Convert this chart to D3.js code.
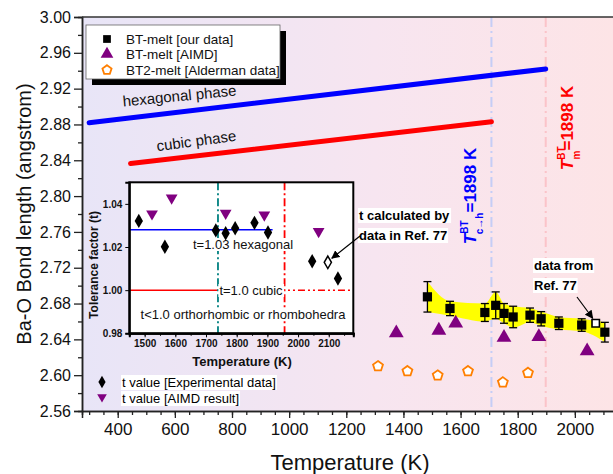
<!DOCTYPE html>
<html>
<head>
<meta charset="utf-8">
<script src="https://d3js.org/d3.v7.min.js"></script>
<style>
  body { margin: 0; background: #fff; }
  text { font-family: "Liberation Sans", Arial, sans-serif; }
</style>
</head>
<body>
<script>
var width = 613,
    height = 474;

// --- main chart data ---
var ourT   = [1484, 1563, 1685, 1723, 1752, 1784, 1843, 1882, 1944, 2024, 2105],
    ourBO  = [2.6875, 2.6745, 2.670, 2.678, 2.669, 2.665, 2.667, 2.663, 2.658, 2.656, 2.648],
    ourErr = [0.017, 0.008, 0.010, 0.015, 0.011, 0.012, 0.008, 0.008, 0.007, 0.007, 0.011];
var refT = [2073], refBO = [2.658]; // open square, Ref. 77
var aimdT  = [1375, 1524, 1583, 1752, 1874, 2043],
    aimdBO = [2.647, 2.650, 2.658, 2.642, 2.643, 2.627];
var aldT  = [1311, 1414, 1520, 1626, 1748, 1836],
    aldBO = [2.610, 2.6045, 2.5997, 2.6045, 2.592, 2.6026];
var hexLine   = [[300, 2.882], [1898, 2.942]],
    cubicLine = [[445, 2.8365], [1708, 2.883]];
var T_ch = 1708, T_m = 1898;
var xTicks = [400, 600, 800, 1000, 1200, 1400, 1600, 1800, 2000],
    yTicks = [2.56, 2.60, 2.64, 2.68, 2.72, 2.76, 2.80, 2.84, 2.88, 2.92, 2.96, 3.00];

// --- inset data ---
var expT = [1481, 1566, 1732, 1764, 1795, 1858, 1902, 2046, 2130],
    expTol = [1.0321, 1.0201, 1.0277, 1.0264, 1.0287, 1.0312, 1.0267, 1.0134, 1.0054];
var expRefT = [2097], expRefTol = [1.0129];
var aimdTolT = [1524, 1588, 1764, 1890, 2067],
    aimdTol  = [1.0354, 1.0428, 1.0357, 1.0349, 1.0272];
var insetXTicks = [1500, 1600, 1700, 1800, 1900, 2000, 2100],
    insetYTicks = [0.98, 1.00, 1.02, 1.04];
var tHex = 1.028, tCubic = 1.00, insetVLine1 = 1739, insetVLine2 = 1956, hexEnd = 1917;

var svg = d3.select("body").append("svg")
    .attr("width", width).attr("height", height);

var pLeft = 82, pTop = 17, pRight = 614, pBottom = 411;

var x = d3.scaleLinear().domain([275, 2137]).range([pLeft, pRight]);
var y = d3.scaleLinear().domain([2.56, 3.00]).range([pBottom, pTop]);

var defs = svg.append("defs");
var grad = defs.append("linearGradient").attr("id", "bg");
grad.append("stop").attr("offset", "0%").attr("stop-color", "#e8e5f7");
grad.append("stop").attr("offset", "55%").attr("stop-color", "#f7e5f0");
grad.append("stop").attr("offset", "100%").attr("stop-color", "#fde4e6");
defs.append("clipPath").attr("id", "clip").append("rect")
    .attr("x", pLeft).attr("y", pTop).attr("width", pRight - pLeft).attr("height", pBottom - pTop);

svg.append("rect").attr("x", pLeft).attr("y", pTop)
    .attr("width", pRight - pLeft).attr("height", pBottom - pTop)
    .attr("fill", "url(#bg)");

var plot = svg.append("g").attr("clip-path", "url(#clip)");

// vertical transition lines
plot.append("line").attr("x1", x(T_ch)).attr("x2", x(T_ch)).attr("y1", pTop).attr("y2", pBottom)
    .attr("stroke", "#c5cdf6").attr("stroke-width", 2).attr("stroke-dasharray", "10,4,2,4");
plot.append("line").attr("x1", x(T_m)).attr("x2", x(T_m)).attr("y1", pTop).attr("y2", pBottom)
    .attr("stroke", "#fbc3c9").attr("stroke-width", 2).attr("stroke-dasharray", "10,4,2,4");

// phase lines
var line = d3.line().x(function(d) { return x(d[0]); }).y(function(d) { return y(d[1]); });
plot.append("path").attr("d", line(hexLine)).attr("stroke", "#0000ff")
    .attr("stroke-width", 5).attr("stroke-linecap", "round").attr("fill", "none");
plot.append("path").attr("d", line(cubicLine)).attr("stroke", "#ff0000")
    .attr("stroke-width", 5).attr("stroke-linecap", "round").attr("fill", "none");

svg.append("text").attr("transform", "translate(180,101) rotate(-5.5)")
    .attr("text-anchor", "middle").attr("font-size", 15).attr("fill", "#111").text("hexagonal phase");
svg.append("text").attr("transform", "translate(197,146) rotate(-7.5)")
    .attr("text-anchor", "middle").attr("font-size", 15).attr("fill", "#111").text("cubic phase");

// yellow band
var ourData = ourT.map(function(t, i) { return {t: t, v: ourBO[i], e: ourErr[i]}; });
var band = d3.area().curve(d3.curveMonotoneX)
    .x(function(d) { return x(d.t); })
    .y0(function(d) { return y(d.v - d.e); })
    .y1(function(d) { return y(d.v + d.e); });
plot.append("path").datum(ourData).attr("d", band).attr("fill", "#ffff00");

// error bars
var eb = plot.selectAll("g.eb").data(ourData).enter().append("g")
    .attr("stroke", "#000").attr("stroke-width", 1.3);
eb.append("line").attr("x1", function(d) { return x(d.t); }).attr("x2", function(d) { return x(d.t); })
    .attr("y1", function(d) { return y(d.v + d.e); }).attr("y2", function(d) { return y(d.v - d.e); });
eb.append("line").attr("x1", function(d) { return x(d.t) - 4; }).attr("x2", function(d) { return x(d.t) + 4; })
    .attr("y1", function(d) { return y(d.v + d.e); }).attr("y2", function(d) { return y(d.v + d.e); });
eb.append("line").attr("x1", function(d) { return x(d.t) - 4; }).attr("x2", function(d) { return x(d.t) + 4; })
    .attr("y1", function(d) { return y(d.v - d.e); }).attr("y2", function(d) { return y(d.v - d.e); });

var sq = d3.symbol().type(d3.symbolSquare).size(85);
plot.selectAll("path.sq").data(ourData).enter().append("path")
    .attr("transform", function(d) { return "translate(" + x(d.t) + "," + y(d.v) + ")"; })
    .attr("d", sq).attr("fill", "#000");
plot.selectAll("path.ref").data(refT).enter().append("path")
    .attr("transform", function(d, i) { return "translate(" + x(d) + "," + y(refBO[i]) + ")"; })
    .attr("d", d3.symbol().type(d3.symbolSquare).size(55)).attr("fill", "#fff")
    .attr("stroke", "#000").attr("stroke-width", 1.6);

var tri = d3.symbol().type(d3.symbolTriangle).size(95);
plot.selectAll("path.tri").data(aimdT).enter().append("path")
    .attr("transform", function(d, i) { return "translate(" + x(d) + "," + y(aimdBO[i]) + ")"; })
    .attr("d", tri).attr("fill", "#800080");

// pentagon path
function pentagon(r) {
  var p = d3.range(5).map(function(k) {
    var a = -Math.PI / 2 + k * 2 * Math.PI / 5;
    return [r * Math.cos(a), r * Math.sin(a)];
  });
  return "M" + p.join("L") + "Z";
}
plot.selectAll("path.pent").data(aldT).enter().append("path")
    .attr("transform", function(d, i) { return "translate(" + x(d) + "," + y(aldBO[i]) + ")"; })
    .attr("d", pentagon(5.2)).attr("fill", "#fff").attr("stroke", "#ff7f00").attr("stroke-width", 1.8);

// axes
var xAxis = svg.append("g").attr("transform", "translate(0," + pBottom + ")")
    .call(d3.axisBottom(x).tickValues(xTicks).tickSize(7).tickPadding(5).tickFormat(d3.format("d")));
svg.append("g").attr("transform", "translate(0," + pBottom + ")")
    .call(d3.axisBottom(x).tickValues(d3.range(300, 2137, 50)).tickSize(4).tickFormat(""));
var yAxis = svg.append("g").attr("transform", "translate(" + pLeft + ",0)")
    .call(d3.axisLeft(y).tickValues(yTicks).tickSize(8).tickPadding(3).tickFormat(d3.format(".2f")));
svg.append("g").attr("transform", "translate(" + pLeft + ",0)")
    .call(d3.axisLeft(y).tickValues(d3.range(2.58, 3.0, 0.04)).tickSize(4).tickFormat(""));
svg.selectAll(".domain").attr("stroke", "#222").attr("stroke-width", 1.5);
svg.selectAll(".tick line").attr("stroke", "#222").attr("stroke-width", 1.3);
xAxis.selectAll("text").attr("font-size", 17).attr("fill", "#111").attr("font-family", "Liberation Sans, Arial");
yAxis.selectAll("text").attr("font-size", 16).attr("fill", "#111").attr("font-family", "Liberation Sans, Arial");
svg.append("line").attr("x1", pLeft).attr("x2", pRight).attr("y1", pTop).attr("y2", pTop)
    .attr("stroke", "#333").attr("stroke-width", 1.5);

svg.append("text").attr("x", 350).attr("y", 470).attr("text-anchor", "middle")
    .attr("font-size", 22).attr("fill", "#111").text("Temperature (K)");
svg.append("text").attr("transform", "translate(31,214) rotate(-90)").attr("text-anchor", "middle")
    .attr("font-size", 20).attr("fill", "#111").text("Ba-O Bond length (angstrom)");

// rotated transition labels
function tLabel(cx, cy, color, sub, val) {
  var t = svg.append("text").attr("transform", "translate(" + cx + "," + cy + ") rotate(-90)")
      .attr("text-anchor", "middle").attr("fill", color).attr("font-weight", "bold").attr("font-size", 17);
  t.append("tspan").attr("font-style", "italic").text("T");
  t.append("tspan").attr("font-size", 10).attr("dy", -8).text("BT");
  t.append("tspan").attr("font-size", 10).attr("dx", -13).attr("dy", 15).text(sub);
  t.append("tspan").attr("dy", -7).text(val);
}
tLabel(476, 196, "#0000ff", "c\u2192h", "=1898 K");
tLabel(573, 128, "#ff0000", "m", "=1898 K");

// "data from Ref. 77" annotation
function whiteLabel(tx, ty, str, size, bold) {
  var t = svg.append("text").attr("x", tx).attr("y", ty).attr("font-size", size)
      .attr("font-weight", bold ? "bold" : "normal").attr("fill", "#000").text(str);
  var b = t.node().getBBox();
  svg.insert("rect", function() { return t.node(); })
      .attr("x", b.x - 1).attr("y", b.y).attr("width", b.width + 2).attr("height", b.height).attr("fill", "#fff");
  return t;
}
defs.append("marker").attr("id", "arr").attr("viewBox", "0 0 10 10").attr("refX", 9).attr("refY", 5)
    .attr("markerWidth", 7).attr("markerHeight", 7).attr("orient", "auto")
    .append("path").attr("d", "M0,0L10,5L0,10Z").attr("fill", "#000");
whiteLabel(534, 270, "data from", 13, true);
whiteLabel(534, 290, "Ref. 77", 13, true);
svg.append("line").attr("x1", 577).attr("y1", 297).attr("x2", x(refT[0]) - 3).attr("y2", y(refBO[0]) - 5)
    .attr("stroke", "#000").attr("stroke-width", 1.2).attr("marker-end", "url(#arr)");

// legend
svg.append("rect").attr("x", 92).attr("y", 31).attr("width", 194).attr("height", 54).attr("fill", "#000");
svg.append("rect").attr("x", 86).attr("y", 25).attr("width", 194).attr("height", 54)
    .attr("fill", "#fff").attr("stroke", "#666").attr("stroke-width", 0.8);
var legItems = ["BT-melt [our data]", "BT-melt [AIMD]", "BT2-melt [Alderman data]"];
var legY = [39, 54, 70];
svg.append("path").attr("transform", "translate(107," + legY[0] + ")").attr("d", d3.symbol().type(d3.symbolSquare).size(60)).attr("fill", "#000");
svg.append("path").attr("transform", "translate(107," + legY[1] + ")").attr("d", d3.symbol().type(d3.symbolTriangle).size(70)).attr("fill", "#800080");
svg.append("path").attr("transform", "translate(107," + legY[2] + ")").attr("d", pentagon(4.8)).attr("fill", "#fff").attr("stroke", "#ff7f00").attr("stroke-width", 1.8);
svg.selectAll("text.leg").data(legItems).enter().append("text")
    .attr("x", 126).attr("y", function(d, i) { return legY[i] + 5; })
    .attr("font-size", 13.5).attr("fill", "#111").text(function(d) { return d; });

// --- inset ---
var ix = d3.scaleLinear().domain([1450, 2180]).range([129.3, 353.3]);
var iy = d3.scaleLinear().domain([0.98, 1.05]).range([333.3, 182.3]);
var inset = svg.append("g");
inset.append("rect").attr("x", 129.3).attr("y", 182.3).attr("width", 224).attr("height", 151).attr("fill", "#fff");

inset.append("line").attr("x1", ix(1450)).attr("x2", ix(hexEnd)).attr("y1", iy(tHex)).attr("y2", iy(tHex))
    .attr("stroke", "#0000ff").attr("stroke-width", 1.5);
inset.append("line").attr("x1", ix(1450)).attr("x2", ix(insetVLine1)).attr("y1", iy(tCubic)).attr("y2", iy(tCubic))
    .attr("stroke", "#ff0000").attr("stroke-width", 1.5);
inset.append("line").attr("x1", ix(insetVLine1)).attr("x2", ix(2180)).attr("y1", iy(tCubic)).attr("y2", iy(tCubic))
    .attr("stroke", "#ff0000").attr("stroke-width", 1.5).attr("stroke-dasharray", "7,3,2,3,2,3");
inset.append("line").attr("x1", ix(insetVLine1)).attr("x2", ix(insetVLine1)).attr("y1", 182.3).attr("y2", 333.3)
    .attr("stroke", "#008080").attr("stroke-width", 1.8).attr("stroke-dasharray", "8,3,2,3");
inset.append("line").attr("x1", ix(insetVLine2)).attr("x2", ix(insetVLine2)).attr("y1", 182.3).attr("y2", 333.3)
    .attr("stroke", "#ff0000").attr("stroke-width", 1.8).attr("stroke-dasharray", "8,3,2,3");

function insetText(tx, ty, str) {
  var t = inset.append("text").attr("x", tx).attr("y", ty).attr("text-anchor", "middle")
      .attr("font-size", 13).attr("fill", "#111").text(str);
  var b = t.node().getBBox();
  inset.insert("rect", function() { return t.node(); })
      .attr("x", b.x - 1).attr("y", b.y + 1).attr("width", b.width + 2).attr("height", b.height - 2).attr("fill", "#fff");
}
insetText(243, 249, "t=1.03 hexagonal");
insetText(251, 295, "t=1.0 cubic");
insetText(243, 319, "t<1.0 orthorhombic or rhombohedra");

var dia = d3.symbol().type(d3.symbolDiamond).size(60);
inset.selectAll("path.dia").data(expT).enter().append("path")
    .attr("transform", function(d, i) { return "translate(" + ix(d) + "," + iy(expTol[i]) + ")"; })
    .attr("d", dia).attr("fill", "#000");
inset.selectAll("path.diaref").data(expRefT).enter().append("path")
    .attr("transform", function(d, i) { return "translate(" + ix(d) + "," + iy(expRefTol[i]) + ")"; })
    .attr("d", d3.symbol().type(d3.symbolDiamond).size(45)).attr("fill", "#fff").attr("stroke", "#000").attr("stroke-width", 1.5);
var tdown = d3.symbol().type(d3.symbolTriangle).size(60);
inset.selectAll("path.td").data(aimdTolT).enter().append("path")
    .attr("transform", function(d, i) { return "translate(" + ix(d) + "," + iy(aimdTol[i]) + ") rotate(180)"; })
    .attr("d", tdown).attr("fill", "#800080");

inset.append("rect").attr("x", 129.3).attr("y", 182.3).attr("width", 224).attr("height", 151)
    .attr("fill", "none").attr("stroke", "#000").attr("stroke-width", 2);
var ixAxis = inset.append("g").attr("transform", "translate(0,333.3)")
    .call(d3.axisBottom(ix).tickValues(insetXTicks).tickSize(4).tickPadding(3).tickFormat(d3.format("d")));
inset.append("g").attr("transform", "translate(0,333.3)")
    .call(d3.axisBottom(ix).tickValues(d3.range(1450, 2180, 50)).tickSize(2.5).tickFormat(""));
var iyAxis = inset.append("g").attr("transform", "translate(129.3,0)")
    .call(d3.axisLeft(iy).tickValues(insetYTicks).tickSize(4).tickPadding(3).tickFormat(d3.format(".2f")));
inset.selectAll(".domain").attr("stroke", "#000").attr("stroke-width", 2);
inset.selectAll("text").filter(function() { return this.parentNode.classList.contains("tick"); })
    .attr("font-size", 10).attr("font-weight", "bold").attr("fill", "#111");

inset.append("text").attr("x", 242).attr("y", 366).attr("text-anchor", "middle")
    .attr("font-size", 13).attr("font-weight", "bold").attr("fill", "#111").text("Temperature (K)");
inset.append("text").attr("transform", "translate(98,265) rotate(-90)").attr("text-anchor", "middle")
    .attr("font-size", 12).attr("font-weight", "bold").attr("fill", "#111").text("Tolerance factor (t)");

whiteLabel(359, 220, "t calculated by", 13, true);
whiteLabel(359, 240, "data in Ref. 77", 13, true);
svg.append("line").attr("x1", 360).attr("y1", 236).attr("x2", ix(expRefT[0]) + 4).attr("y2", iy(expRefTol[0]) - 4)
    .attr("stroke", "#000").attr("stroke-width", 1.2).attr("marker-end", "url(#arr)");

// inset legend
svg.append("path").attr("transform", "translate(102,382)").attr("d", d3.symbol().type(d3.symbolDiamond).size(45)).attr("fill", "#000");
svg.append("path").attr("transform", "translate(102,397) rotate(180)").attr("d", d3.symbol().type(d3.symbolTriangle).size(40)).attr("fill", "#800080");
whiteLabel(122, 387, "t value [Experimental data]", 13, false);
whiteLabel(122, 403, "t value [AIMD result]", 13, false);
</script>
</body>
</html>
